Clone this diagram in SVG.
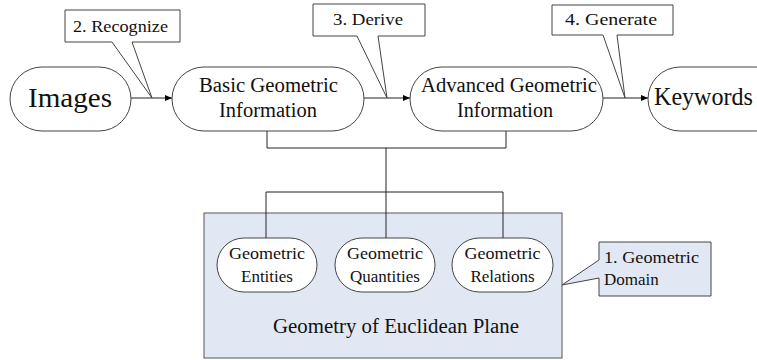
<svg xmlns="http://www.w3.org/2000/svg" width="757" height="360" viewBox="0 0 757 360">
<defs>
<marker id="ah" markerWidth="8" markerHeight="8" refX="7" refY="4" orient="auto" markerUnits="userSpaceOnUse"><path d="M0,1 L7,4 L0,7 Z" fill="#000"/></marker>
<style>
.pill{fill:#fff;stroke:#444;stroke-width:1}
.call{fill:#fff;stroke:#444;stroke-width:1}
text{fill:#111}
.t{text-anchor:middle}
.m{font-size:20px}
.s{font-size:17px}
.c{font-size:17px}
.conn{fill:none;stroke:#222;stroke-width:1}
</style>
</defs>
<rect width="757" height="360" fill="#fff"/>
<g font-family="Liberation Serif, Times New Roman, DejaVu Serif, serif">
<g id="domain">
<rect x="204" y="213" width="358" height="145" fill="#e2e8f3" stroke="#555"/>
<text class="t" x="396" y="333" font-size="20" textLength="246" lengthAdjust="spacingAndGlyphs">Geometry of Euclidean Plane</text>
</g>
<g id="connectors">
<line class="conn" x1="131" y1="98" x2="172" y2="98" marker-end="url(#ah)"/>
<line class="conn" x1="364" y1="98" x2="410" y2="98" marker-end="url(#ah)"/>
<line class="conn" x1="603" y1="98" x2="648" y2="98" marker-end="url(#ah)"/>
<polyline class="conn" points="267,131 267,148 506,148 506,131"/>
<line class="conn" x1="386" y1="148" x2="386" y2="238"/>
<polyline class="conn" points="266,238 266,192 503,192 503,238"/>
</g>
<g id="images">
<rect class="pill" x="10" y="67" width="121" height="64" rx="32"/>
<text class="t" x="70" y="107" font-size="28" textLength="84" lengthAdjust="spacingAndGlyphs">Images</text>
</g>
<g id="basic">
<rect class="pill" x="172" y="67" width="192" height="64" rx="32"/>
<text class="t m" x="268.5" y="92" textLength="139" lengthAdjust="spacingAndGlyphs">Basic Geometric</text>
<text class="t m" x="268" y="117" textLength="98" lengthAdjust="spacingAndGlyphs">Information</text>
</g>
<g id="advanced">
<rect class="pill" x="410" y="67" width="193" height="64" rx="32"/>
<text class="t m" x="509" y="92" textLength="176" lengthAdjust="spacingAndGlyphs">Advanced Geometric</text>
<text class="t m" x="505" y="117" textLength="96" lengthAdjust="spacingAndGlyphs">Information</text>
</g>
<g id="keywords">
<rect class="pill" x="648" y="67" width="140" height="64" rx="32"/>
<text x="654" y="105" font-size="25" textLength="99" lengthAdjust="spacingAndGlyphs">Keywords</text>
</g>
<g id="entities">
<rect class="pill" x="217" y="238" width="100" height="54" rx="27"/>
<text class="t s" x="267" y="259" textLength="76" lengthAdjust="spacingAndGlyphs">Geometric</text>
<text class="t s" x="267" y="282">Entities</text>
</g>
<g id="quantities">
<rect class="pill" x="335" y="238" width="100" height="54" rx="27"/>
<text class="t s" x="385" y="259" textLength="76" lengthAdjust="spacingAndGlyphs">Geometric</text>
<text class="t s" x="385" y="282">Quantities</text>
</g>
<g id="relations">
<rect class="pill" x="452" y="238" width="101" height="54" rx="27"/>
<text class="t s" x="502.5" y="259" textLength="76" lengthAdjust="spacingAndGlyphs">Geometric</text>
<text class="t s" x="502.5" y="282">Relations</text>
</g>
<g id="callout-recognize">
<path class="call" d="M65,10 H180 V42 H132 L152,98 L112,42 H65 Z"/>
<text class="t c" x="120.5" y="32" textLength="95" lengthAdjust="spacingAndGlyphs">2. Recognize</text>
</g>
<g id="callout-derive">
<path class="call" d="M313,4 H425 V36 H378 L387,98 L357,36 H313 Z"/>
<text class="t c" x="368" y="25" textLength="70" lengthAdjust="spacingAndGlyphs">3. Derive</text>
</g>
<g id="callout-generate">
<path class="call" d="M552,5 H673 V35 H617 L625,98 L603,35 H552 Z"/>
<text class="t c" x="611" y="25" textLength="92" lengthAdjust="spacingAndGlyphs">4. Generate</text>
</g>
<g id="callout-domain">
<path d="M599,242 H711 V296 H599 V278 L562,285 L599,260 Z" fill="#e2e8f3" stroke="#444"/>
<text x="604" y="263" font-size="17" textLength="95" lengthAdjust="spacingAndGlyphs">1. Geometric</text>
<text x="604" y="285" font-size="17">Domain</text>
</g>
</g>
</svg>
